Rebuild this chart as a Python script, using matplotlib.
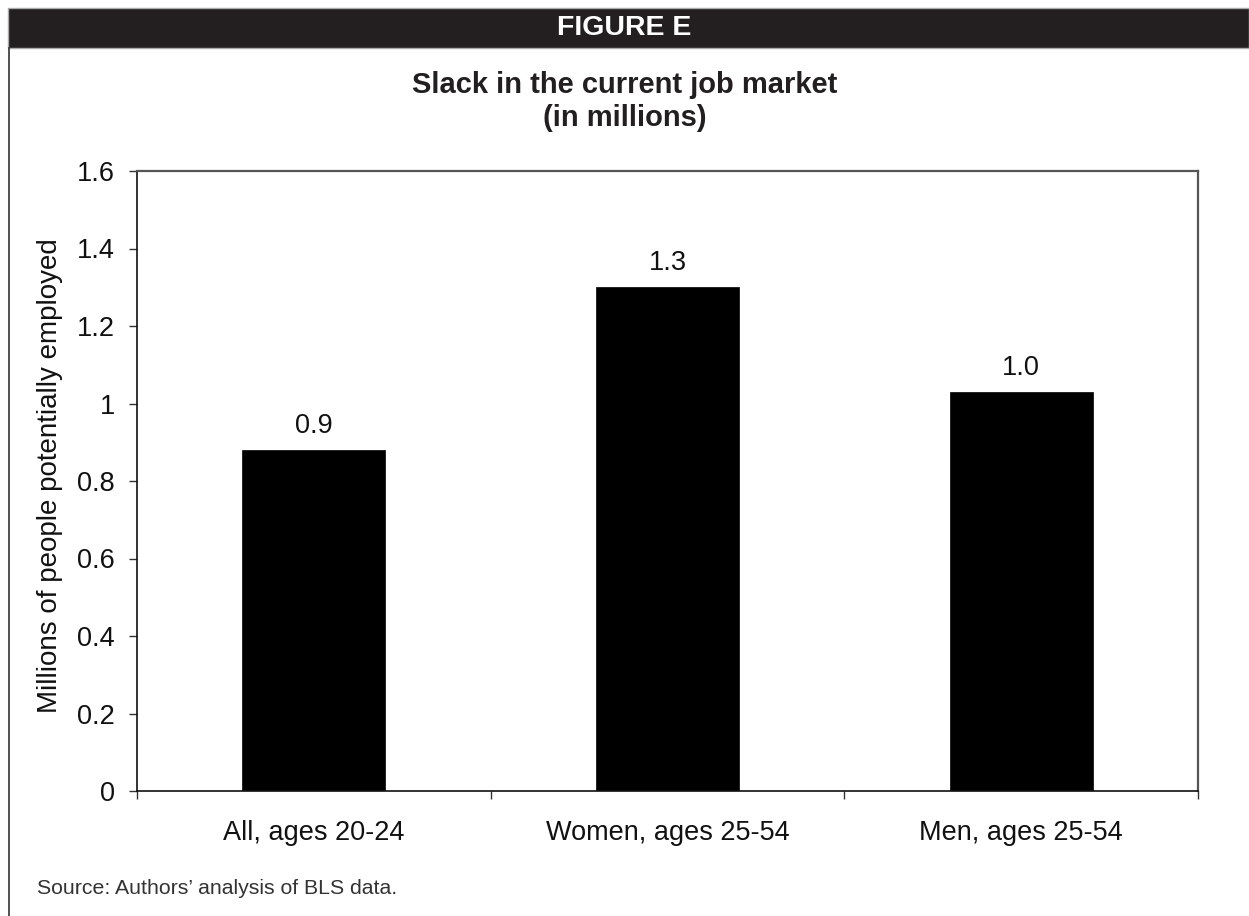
import matplotlib
matplotlib.use("Agg")
import matplotlib.pyplot as plt
from matplotlib.patches import Rectangle
from matplotlib.lines import Line2D
from matplotlib.ticker import FixedLocator, FuncFormatter

plt.rcParams['font.family'] = ['Liberation Sans', 'DejaVu Sans']

categories = ["All, ages 20-24", "Women, ages 25-54", "Men, ages 25-54"]
values = [0.88, 1.30, 1.03]
y_ticks = [0, 0.2, 0.4, 0.6, 0.8, 1.0, 1.2, 1.4, 1.6]

fig = plt.figure(figsize=(12.49, 9.16), dpi=100)

# Banner
fig.patches.append(Rectangle((8/1249, 1 - 48/916), 1 - 8/1249, 40/916,
                             transform=fig.transFigure, facecolor="#231f20",
                             edgecolor="#aaaaaa", linewidth=1.0, zorder=0))
fig.text(0.5, 1 - 28/916, "FIGURE E", ha="center", va="center",
         color="white", fontsize=20.5, fontweight="bold")
# Left border line
fig.lines.append(Line2D([9/1249, 9/1249], [0, 1 - 48/916], transform=fig.transFigure,
                        color="#333333", linewidth=1.2))

fig.text(0.5, 1 - 85/916, "Slack in the current job market", ha="center", va="center",
         fontsize=21, fontweight="bold", color="#231f20")
fig.text(0.5, 1 - 118/916, "(in millions)", ha="center", va="center",
         fontsize=21, fontweight="bold", color="#231f20")

ax = fig.add_axes([137/1249, 1 - 791/916, (1198 - 137)/1249, (791 - 171)/916])
x = list(range(len(categories)))
bars = ax.bar(x, values, width=0.405, color="black", edgecolor="black", linewidth=0.5)
for xi, v in zip(x, values):
    ax.annotate(f"{v:.1f}", (xi, v), xytext=(0, 8), textcoords="offset points",
                ha="center", va="bottom", fontsize=19.5, color="#111111")

ax.set_xlim(-0.5, len(categories) - 0.5)
ax.set_ylim(0, 1.6)
ax.yaxis.set_major_locator(FixedLocator(y_ticks))
ax.yaxis.set_major_formatter(FuncFormatter(lambda v, p: f"{v:g}"))
ax.tick_params(axis="y", direction="out", length=6, width=1, labelsize=19.5,
               pad=10, color="#333333", labelcolor="#111111")

ax.xaxis.set_major_locator(FixedLocator([i - 0.5 for i in range(len(categories) + 1)]))
ax.xaxis.set_major_formatter(FuncFormatter(lambda v, p: ""))
ax.xaxis.set_minor_locator(FixedLocator(x))
ax.set_xticklabels(categories, minor=True)
ax.tick_params(axis="x", which="major", direction="out", length=6, width=1, color="#333333")
ax.tick_params(axis="x", which="minor", length=0, labelsize=19.5, pad=21, labelcolor="#111111")

ax.set_ylabel("Millions of people potentially employed", fontsize=20, color="#111111", va="center")
ax.yaxis.set_label_coords((50 - 137) / 1061, (791 - 476) / 620)

for s in ["left", "bottom"]:
    ax.spines[s].set_color("#111111")
    ax.spines[s].set_linewidth(1.2)
for s in ["top", "right"]:
    ax.spines[s].set_color("#555555")
    ax.spines[s].set_linewidth(1.6)

fig.text(37/1249, 1 - 888/916, "Source: Authors\u2019 analysis of BLS data.", ha="left", va="center",
         fontsize=15.3, color="#333333")

fig.savefig("out.png", dpi=100)
